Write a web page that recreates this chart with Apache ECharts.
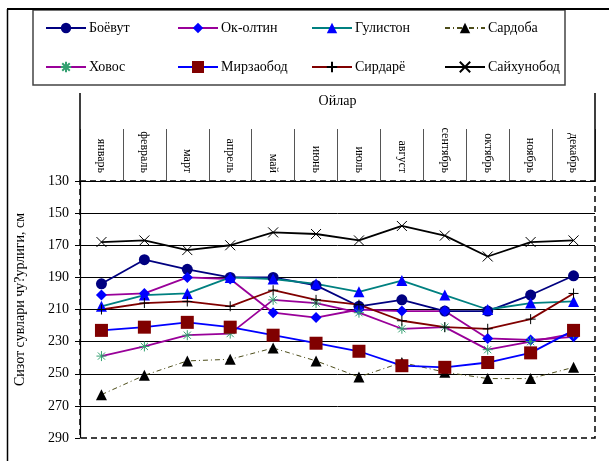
<!DOCTYPE html>
<html>
<head>
<meta charset="utf-8">
<title>Сизот сувлари чуқурлиги</title>
<script src="https://cdn.jsdelivr.net/npm/echarts@6/dist/echarts.min.js"></script>
<style>
  html, body { margin: 0; padding: 0; background: #fff; }
  #chart { width: 609px; height: 461px; }
</style>
</head>
<body>
<div id="chart"></div>
<script>
// Months along the top axis
const months = ['январь', 'февраль', 'март', 'апрель', 'май', 'июнь',
                'июль', 'август', 'сентябрь', 'октябрь', 'ноябрь', 'декабрь'];
const groupLabel = ['Ойлар'];

// Depth values per station, cm
const boyovut     = [194, 179, 185, 190, 190, 195, 208, 204, 211, 211, 201, 189];
const okoltin     = [201, 200, 190, 191, 212, 215, 210, 211, 211, 228, 229, 227];
const guliston    = [208, 201, 200, 190, 191, 194, 199, 192, 201, 210, 206, 205];
const sardoba     = [263, 251, 242, 241, 234, 242, 252, 243, 249, 253, 253, 246];
const hovos       = [239, 233, 226, 225, 204, 206, 212, 222, 221, 235, 230, 225];
const mirzaobod   = [223, 221, 218, 221, 226, 231, 236, 245, 246, 243, 237, 223];
const sirdaryo    = [210, 206, 205, 208, 198, 204, 207, 217, 221, 222, 216, 200];
const sayhunobod  = [168, 167, 173, 170, 162, 163, 167, 158, 164, 177, 168, 167];

// Depth axis range
const yMin = 130, yMax = 290, yStep = 20;

const FONT = 'Liberation Serif';

const PLUS = 'path://M5,0L5,10M0,5L10,5';
const CROSS = 'path://M0,0L10,10M10,0L0,10';
const STAR = 'path://M5,0L5,10M0,5L10,5M1.4,1.4L8.6,8.6M8.6,1.4L1.4,8.6';

function lineSeries(name, data, o) {
  return {
    name: name,
    type: 'line',
    data: data,
    symbol: o.symbol,
    symbolSize: o.size,
    showAllSymbol: true,
    animation: false,
    lineStyle: { color: o.line, width: o.width || 1.8, type: o.dash || 'solid' },
    itemStyle: o.stroke
      ? { color: 'transparent', borderColor: o.stroke, borderWidth: o.strokeWidth || 1 }
      : { color: o.fill, borderWidth: 0 },
    emphasis: { disabled: true }
  };
}

const series = [
  lineSeries('Боёвут', boyovut, { symbol: 'circle', size: 11, line: '#000080', fill: '#000080' }),
  lineSeries('Ок-олтин', okoltin, { symbol: 'diamond', size: 11, line: '#990099', fill: '#0000ff' }),
  lineSeries('Гулистон', guliston, { symbol: 'triangle', size: 11, line: '#008080', fill: '#0000ff' }),
  lineSeries('Сардоба', sardoba, { symbol: 'triangle', size: 11, line: '#4d4d1a', fill: '#000000', width: 1, dash: [5, 3, 1, 3] }),
  lineSeries('Ховос', hovos, { symbol: STAR, size: 10, line: '#990099', stroke: '#33a070' }),
  lineSeries('Мирзаобод', mirzaobod, { symbol: 'rect', size: 13, line: '#0000ff', fill: '#800000' }),
  lineSeries('Сирдарё', sirdaryo, { symbol: PLUS, size: 10, line: '#800000', stroke: '#000000' }),
  lineSeries('Сайхунобод', sayhunobod, { symbol: CROSS, size: 10, line: '#000000', stroke: '#000000' })
];

// Legend: two rows of four, each entry placed in its own column
const legendCols = [45, 177, 311, 444];
const legendRows = [21, 60];
const legends = series.map(function (s, i) {
  return {
    data: [s.name],
    left: legendCols[i % 4],
    top: legendRows[Math.floor(i / 4)],
    orient: 'horizontal',
    padding: 0,
    itemWidth: 40,
    itemHeight: s.name === 'Мирзаобод' ? 15 : 13,
    selectedMode: false,
    textStyle: { fontFamily: FONT, fontSize: 14, color: '#000', padding: [0, 0, 0, -2] }
  };
});

const chart = echarts.init(document.getElementById('chart'), null, { renderer: 'canvas' });

chart.setOption({
  backgroundColor: '#ffffff',
  animation: false,
  legend: legends,
  grid: {
    left: 80, right: 14, top: 181, bottom: 23,
    show: true,
    borderColor: '#000',
    borderWidth: 1.5,
    borderType: [6, 4]
  },
  xAxis: [
    {
      type: 'category',
      data: months,
      position: 'top',
      boundaryGap: true,
      axisLine: { show: true, lineStyle: { color: '#000', width: 1 } },
      axisTick: { show: true, length: 52, inside: false, lineStyle: { color: '#555', width: 1 } },
      axisLabel: {
        rotate: 90, margin: 8, interval: 0,
        fontFamily: FONT, fontSize: 12, color: '#000'
      },
      splitLine: { show: false }
    },
    {
      type: 'category',
      data: groupLabel,
      position: 'top',
      boundaryGap: true,
      axisLine: { show: false },
      axisTick: { show: true, length: 88, inside: false, lineStyle: { color: '#000', width: 1.5 } },
      axisLabel: { margin: 73, fontFamily: FONT, fontSize: 14, color: '#000' },
      splitLine: { show: false }
    }
  ],
  yAxis: {
    type: 'value',
    inverse: true,
    min: yMin,
    max: yMax,
    interval: yStep,
    name: 'Сизот сувлари чу?урлиги, см',
    nameLocation: 'middle',
    nameGap: 53,
    nameTextStyle: { fontFamily: FONT, fontSize: 14, color: '#000', padding: [0, 0, 0, 20] },
    axisLine: { show: true, lineStyle: { color: '#000', width: 1.2 } },
    axisTick: { show: true, length: 5, inside: false, lineStyle: { color: '#000' } },
    axisLabel: { margin: 11, fontFamily: FONT, fontSize: 14, color: '#000' },
    splitLine: { show: true, showMinLine: true, showMaxLine: false, lineStyle: { color: '#000', width: 1 } }
  },
  graphic: [
    // outer frame (top and left edges)
    { type: 'line', shape: { x1: 7, y1: 9, x2: 609, y2: 9 }, style: { stroke: '#000', lineWidth: 2 }, silent: true },
    { type: 'line', shape: { x1: 7.5, y1: 9, x2: 7.5, y2: 461 }, style: { stroke: '#000', lineWidth: 1.5 }, silent: true },
    // legend frame
    { type: 'rect', shape: { x: 33, y: 10, width: 532, height: 75 }, style: { fill: 'none', stroke: '#444', lineWidth: 1.5 }, silent: true, z: -1 }
  ],
  series: series
});
</script>
</body>
</html>
